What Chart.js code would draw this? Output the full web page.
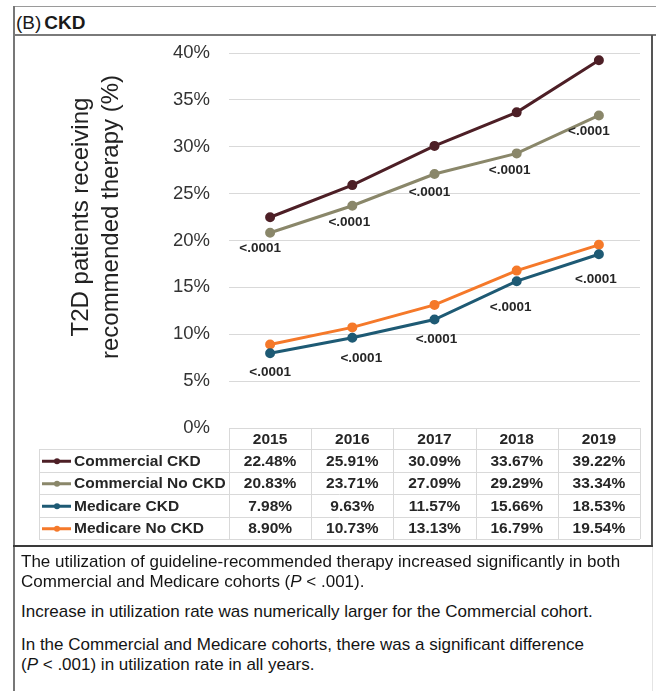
<!DOCTYPE html>
<html>
<head>
<meta charset="utf-8">
<script src="https://cdn.jsdelivr.net/npm/chart.js@4.4.1/dist/chart.umd.min.js"></script>
<style>
  body { margin: 0; background: #fff; }
  #wrap { position: relative; width: 656px; height: 691px; overflow: hidden; font-family: Arial, "Liberation Sans", sans-serif; color: #1a1a1a; }
  #wrap canvas { position: absolute; left: 0; top: 36px; }
  .rule { position: absolute; }
  .title { position: absolute; left: 16px; top: 13px; font-size: 19px; line-height: 19px; white-space: nowrap; }
  .title b { margin-left: 3px; }
  .note { position: absolute; left: 21px; font-size: 17px; line-height: 20px; white-space: nowrap; color: #141414; }
</style>
</head>
<body>
<div id="wrap">
  <canvas id="ckdChart" width="656" height="510"></canvas>

  <!-- panel frame -->
  <div class="rule" style="left:13px;top:6px;width:643px;height:1px;background:#9a9a9a"></div>
  <div class="rule" style="left:13px;top:6px;width:2px;height:685px;background:#777"></div>
  <div class="rule" style="left:13px;top:34px;width:643px;height:2px;background:#7a7a7a"></div>
  <div class="rule" style="left:651px;top:35px;width:2px;height:511px;background:#555"></div>
  <div class="rule" style="left:13px;top:545px;width:640px;height:2px;background:#3a3a3a"></div>
  <div class="rule" style="left:652px;top:547px;width:1px;height:144px;background:#e4e4e4"></div>

  <div class="title">(B)<b>CKD</b></div>

  <div class="note" style="top:552px">The utilization of guideline-recommended therapy increased significantly in both<br>Commercial and Medicare cohorts (<i>P</i> &lt; .001).</div>
  <div class="note" style="top:602px">Increase in utilization rate was numerically larger for the Commercial cohort.</div>
  <div class="note" style="top:635px">In the Commercial and Medicare cohorts, there was a significant difference<br>(<i>P</i> &lt; .001) in utilization rate in all years.</div>
</div>

<script>
const years = ['2015', '2016', '2017', '2018', '2019'];
const commercialCkd = [22.48, 25.91, 30.09, 33.67, 39.22];
const commercialNoCkd = [20.83, 23.71, 27.09, 29.29, 33.34];
const medicareCkd = [7.98, 9.63, 11.57, 15.66, 18.53];
const medicareNoCkd = [8.90, 10.73, 13.13, 16.79, 19.54];
const pValues = ['<.0001', '<.0001', '<.0001', '<.0001', '<.0001'];
const yTicks = [0, 5, 10, 15, 20, 25, 30, 35, 40];

const FONT = 'Arial, "Liberation Sans", sans-serif';

function series(label, data, color) {
  return {
    label: label,
    data: data,
    borderColor: color,
    backgroundColor: color,
    borderWidth: 3,
    pointRadius: 3.5,
    pointHoverRadius: 3.5,
    tension: 0
  };
}

// y axis caption, two rotated lines
const axisCaption = {
  id: 'axisCaption',
  afterDraw(chart) {
    const ctx = chart.ctx;
    ctx.save();
    ctx.font = '24px ' + FONT;
    ctx.fillStyle = '#222';
    ctx.textAlign = 'center';
    ctx.textBaseline = 'alphabetic';
    [['T2D patients receiving', 88], ['recommended therapy (%)', 118]].forEach(function (l) {
      ctx.save();
      ctx.translate(l[1], 181);
      ctx.rotate(-Math.PI / 2);
      ctx.fillText(l[0], 0, 0);
      ctx.restore();
    });
    ctx.restore();
  }
};

// p-value labels under the No CKD / CKD lines
const pLabels = {
  id: 'pLabels',
  afterDatasetsDraw(chart) {
    const ctx = chart.ctx;
    const nudges = {
      1: [[-10, 16], [-3, 17], [-5, 18], [-7, 17], [-10, 16]],
      2: [[0, 19], [9, 21], [2, 20], [-6, 26], [-3, 25]]
    };
    ctx.save();
    ctx.font = 'bold 13.5px ' + FONT;
    ctx.fillStyle = '#262626';
    ctx.textAlign = 'center';
    ctx.textBaseline = 'middle';
    Object.keys(nudges).forEach(function (di) {
      const meta = chart.getDatasetMeta(+di);
      meta.data.forEach(function (pt, i) {
        ctx.fillText(pValues[i], pt.x + nudges[di][i][0], pt.y + nudges[di][i][1]);
      });
    });
    ctx.restore();
  }
};

// data table under the plot, columns follow the x scale
const dataTable = {
  id: 'dataTable',
  afterDraw(chart) {
    const ctx = chart.ctx;
    const x = chart.scales.x;
    const headTop = chart.scales.y.getPixelForValue(0);
    const step = x.getPixelForValue(1) - x.getPixelForValue(0);
    const edges = years.map(function (_, i) { return x.getPixelForValue(i) - step / 2; });
    edges.push(x.getPixelForValue(years.length - 1) + step / 2);
    const legendLeft = 39;
    const headH = 21;
    const rowH = 22.5;
    const rows = chart.data.datasets;
    const bottom = headTop + headH + rowH * rows.length;

    ctx.save();
    ctx.strokeStyle = '#d9d9d9';
    ctx.lineWidth = 1;
    ctx.beginPath();
    ctx.moveTo(edges[0], Math.round(headTop) + 0.5);
    ctx.lineTo(edges[edges.length - 1], Math.round(headTop) + 0.5);
    for (let r = 0; r <= rows.length; r++) {
      const y = Math.round(headTop + headH + r * rowH) + 0.5;
      ctx.moveTo(legendLeft, y);
      ctx.lineTo(edges[edges.length - 1], y);
    }
    edges.forEach(function (e) {
      ctx.moveTo(Math.round(e) + 0.5, headTop);
      ctx.lineTo(Math.round(e) + 0.5, bottom);
    });
    ctx.moveTo(legendLeft + 0.5, headTop + headH);
    ctx.lineTo(legendLeft + 0.5, bottom);
    ctx.stroke();

    ctx.font = 'bold 15.5px ' + FONT;
    ctx.fillStyle = '#262626';
    ctx.textAlign = 'center';
    ctx.textBaseline = 'middle';
    years.forEach(function (yr, i) {
      ctx.fillText(yr, x.getPixelForValue(i), headTop + headH / 2 + 1);
    });

    rows.forEach(function (ds, r) {
      const cy = headTop + headH + rowH * r + rowH / 2 + 1;
      // legend key
      ctx.strokeStyle = ds.borderColor;
      ctx.lineWidth = 3;
      ctx.beginPath();
      ctx.moveTo(42, cy);
      ctx.lineTo(71, cy);
      ctx.stroke();
      ctx.fillStyle = ds.borderColor;
      ctx.beginPath();
      ctx.arc(57, cy, 3, 0, Math.PI * 2);
      ctx.fill();

      ctx.fillStyle = '#262626';
      ctx.textAlign = 'left';
      ctx.fillText(ds.label, 74, cy);
      ctx.textAlign = 'center';
      ds.data.forEach(function (v, i) {
        ctx.fillText(v.toFixed(2) + '%', x.getPixelForValue(i), cy);
      });
    });
    ctx.restore();
  }
};

new Chart(document.getElementById('ckdChart'), {
  type: 'line',
  data: {
    labels: years,
    datasets: [
      series('Commercial CKD', commercialCkd, '#4d1f26'),
      series('Commercial No CKD', commercialNoCkd, '#8a876a'),
      series('Medicare CKD', medicareCkd, '#1e5a74'),
      series('Medicare No CKD', medicareNoCkd, '#f5792a')
    ]
  },
  options: {
    responsive: false,
    animation: false,
    devicePixelRatio: 1,
    layout: { padding: { top: 17, right: 16, bottom: 118, left: 0 } },
    plugins: {
      legend: { display: false },
      tooltip: { enabled: false }
    },
    scales: {
      x: { type: 'category', offset: true, display: false },
      y: {
        min: yTicks[0],
        max: yTicks[yTicks.length - 1],
        afterFit: function (scale) {
          scale.width = 229;
          scale.paddingTop = 0;
          scale.paddingBottom = 0;
        },
        afterBuildTicks: function (scale) {
          scale.ticks = yTicks.map(function (v) { return { value: v }; });
        },
        ticks: {
          padding: 19,
          color: '#333',
          font: { size: 18.5, family: FONT },
          callback: function (v) { return v + '%'; }
        },
        grid: { color: '#d9d9d9', drawTicks: false },
        border: { display: false }
      }
    }
  },
  plugins: [dataTable, axisCaption, pLabels]
});
</script>
</body>
</html>
